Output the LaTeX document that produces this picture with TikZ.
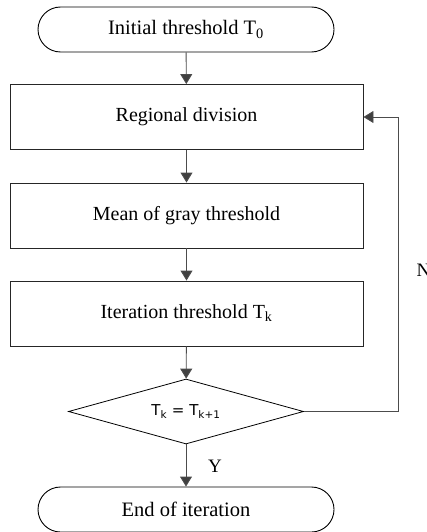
\documentclass[tikz,border=0pt]{standalone}
\usepackage{fontspec}
\setmainfont{Liberation Serif}
\newfontfamily\dvs{DejaVu Sans}
\usetikzlibrary{shapes.geometric,shapes.misc,arrows.meta}
\begin{document}
\begin{tikzpicture}[x=1pt,y=-1pt,
  term/.style={draw=black,line width=0.9pt,rounded rectangle,minimum width=296pt,minimum height=45pt,font=\fontsize{20.5}{24}\selectfont,inner sep=0pt},
  procbox/.style={draw=black!85,line width=0.9pt,rectangle,minimum width=353pt,minimum height=65pt,font=\fontsize{20}{24}\selectfont,inner sep=0pt},
  dec/.style={draw=black,line width=0.8pt,diamond,minimum width=235pt,minimum height=65pt,aspect=3.6,inner sep=0pt},
  conn/.style={draw=black!70,line width=0.9pt,-{Triangle[length=10pt,width=12pt,fill=black!75]}},
  lab/.style={font=\fontsize{19}{22}\selectfont}]
\useasboundingbox (0,0) rectangle (426,532);
\node[term] (t0) at (186,29.5) {Initial threshold T\textsubscript{0}};
\node[procbox] (rd) at (186.5,117) {Regional division};
\node[procbox] (mg) at (186.5,215.5) {Mean of gray threshold};
\node[procbox] (it) at (186.5,313.5) {Iteration threshold T\textsubscript{k}};
\node[dec] (dc) at (186,411.5) {};
\node[font=\dvs\fontsize{15}{18}\selectfont] (dct) at (186,412) {T\textsubscript{k} = T\textsubscript{k+1}};
\node[term] (end) at (186,509.5) {End of iteration};
\coordinate (c1) at (398,411.5);
\coordinate (c2) at (398,117);
\draw[conn] (t0) -- (rd);
\draw[conn] (rd) -- (mg);
\draw[conn] (mg) -- (it);
\draw[conn] (it) -- (dc);
\draw[conn] (dc) -- (end);
\draw[conn] (dc.east) -- (c1) -- (c2) -- (rd.east);
\node[lab,anchor=west] (n) at (413,270) {N};
\node[lab] (y) at (215,466) {Y};
\end{tikzpicture}
\end{document}
